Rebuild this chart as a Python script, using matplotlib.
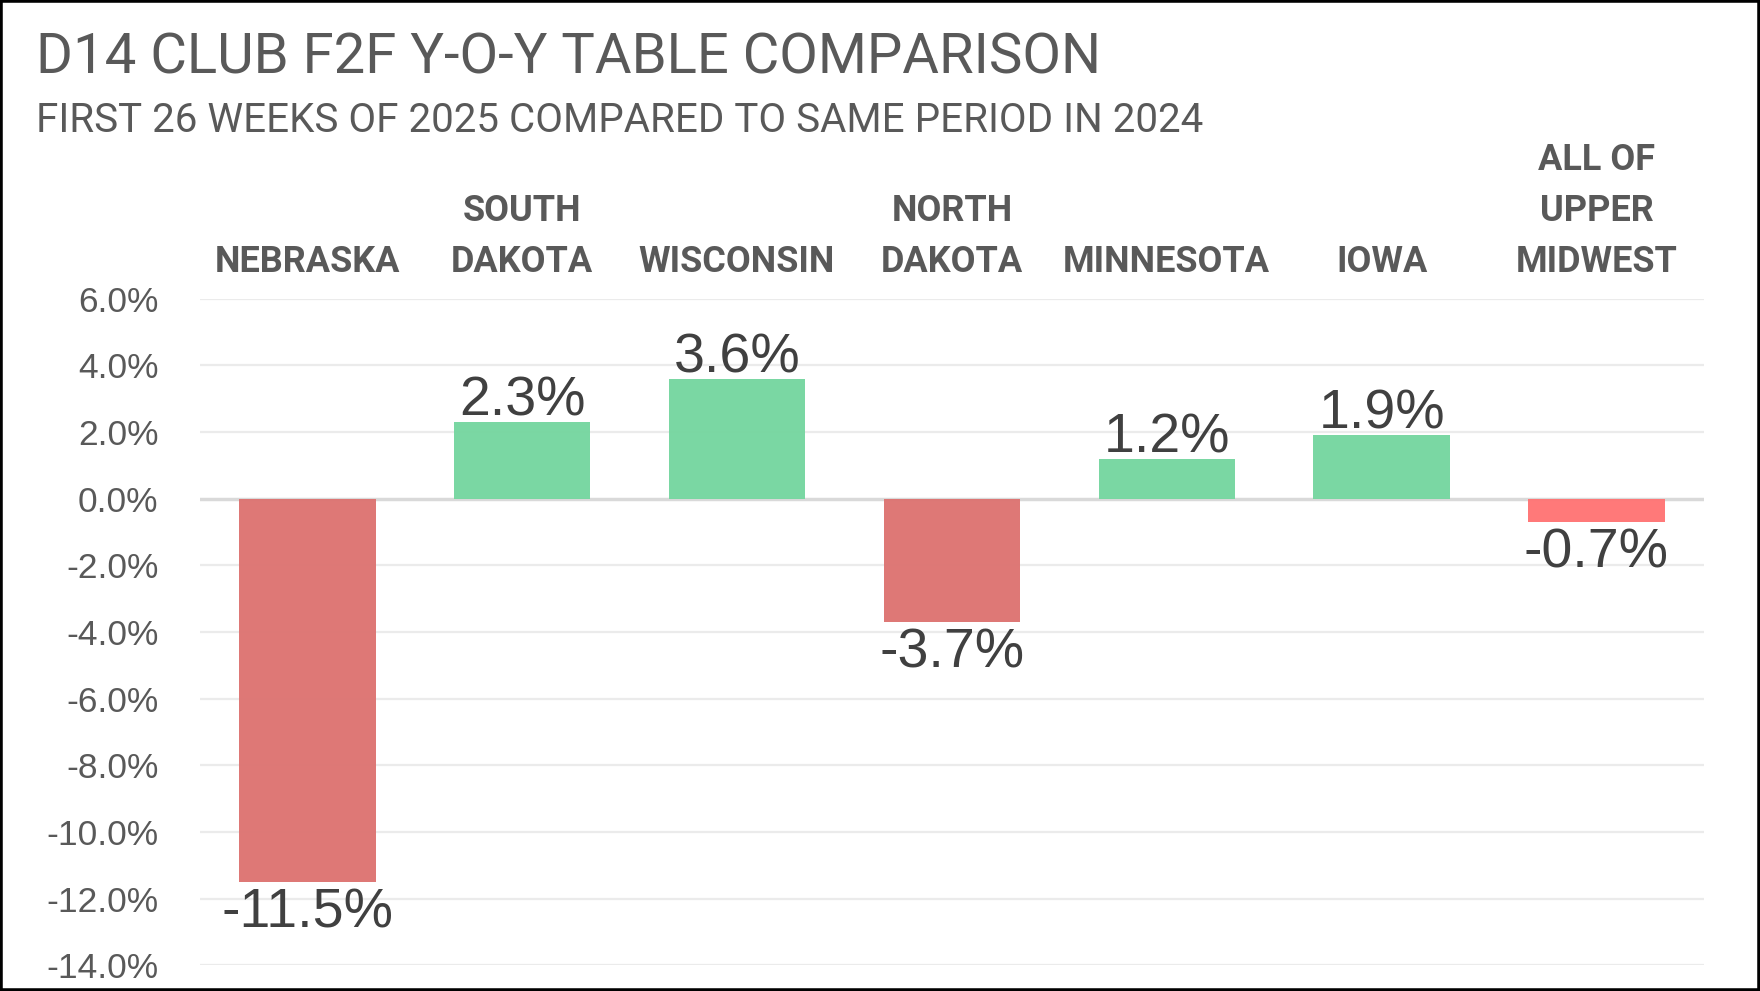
import matplotlib
matplotlib.use("Agg")
import matplotlib.pyplot as plt
from matplotlib import font_manager, transforms
from matplotlib.patches import Rectangle

categories = ["NEBRASKA", "SOUTH\nDAKOTA", "WISCONSIN", "NORTH\nDAKOTA",
              "MINNESOTA", "IOWA", "ALL OF\nUPPER\nMIDWEST"]
values = [-11.5, 2.3, 3.6, -3.7, 1.2, 1.9, -0.7]
bar_colors = ["#DD7472", "#76D6A0", "#76D6A0", "#DD7472", "#76D6A0", "#76D6A0", "#FF7575"]
yticks = [6, 4, 2, 0, -2, -4, -6, -8, -10, -12, -14]

names = {f.name for f in font_manager.fontManager.ttflist}
narrow = "Liberation Sans Narrow" if "Liberation Sans Narrow" in names else "Roboto"
plain = "Liberation Sans" if "Liberation Sans" in names else "DejaVu Sans"

fig = plt.figure(figsize=(17.6, 9.91), dpi=100)
ax = fig.add_axes([0.1136, 0.026, 0.8545, 0.6727])

x = list(range(len(values)))
ax.bar(x, values, width=0.635, color=bar_colors, alpha=0.97, zorder=2)

ax.set_xlim(-0.5, len(values) - 0.5)
ax.set_ylim(-14, 6)
ax.set_yticks(yticks)
ax.set_yticklabels([f"{t:.1f}%" for t in yticks], fontsize=25.5, color="#595959", family=plain)
ax.tick_params(axis="y", length=0, pad=30)
ax.set_xticks([])
for s in ax.spines.values():
    s.set_visible(False)
for t in yticks:
    if t == 0:
        ax.axhline(t, color="#D9D9D9", lw=2.5, zorder=1)
    else:
        ax.axhline(t, color="#EBEBEB", lw=1.6, zorder=1)

for xi, v in zip(x, values):
    if v >= 0:
        ax.annotate(f"{v:.1f}%", (xi, v), xytext=(0, -4), textcoords="offset points",
                    ha="center", va="bottom", fontsize=40, color="#404040", family=plain)
    else:
        ax.annotate(f"{v:.1f}%", (xi, v), xytext=(0, -4), textcoords="offset points",
                    ha="center", va="top", fontsize=40, color="#404040", family=plain)

trans = transforms.blended_transform_factory(ax.transData, fig.transFigure)
for xi, lab in zip(x, categories):
    lines = lab.split("\n")
    for k, line in enumerate(reversed(lines)):
        ax.text(xi, 0.726 + k * 0.051, line, transform=trans, ha="center", va="baseline",
                fontsize=26, fontweight="bold", color="#595959", family=narrow)

fig.text(0.0204, 0.9263, "D14 CLUB F2F Y-O-Y TABLE COMPARISON", fontsize=40.5,
         color="#595959", family=narrow, va="baseline")
fig.text(0.0204, 0.8663, "FIRST 26 WEEKS OF 2025 COMPARED TO SAME PERIOD IN 2024", fontsize=29,
         color="#595959", family=narrow, va="baseline")

fig.patches.append(Rectangle((0, 0), 1, 1, transform=fig.transFigure, fill=False,
                             edgecolor="black", lw=4, zorder=10))

fig.savefig("out.png", dpi=100, facecolor="white")
